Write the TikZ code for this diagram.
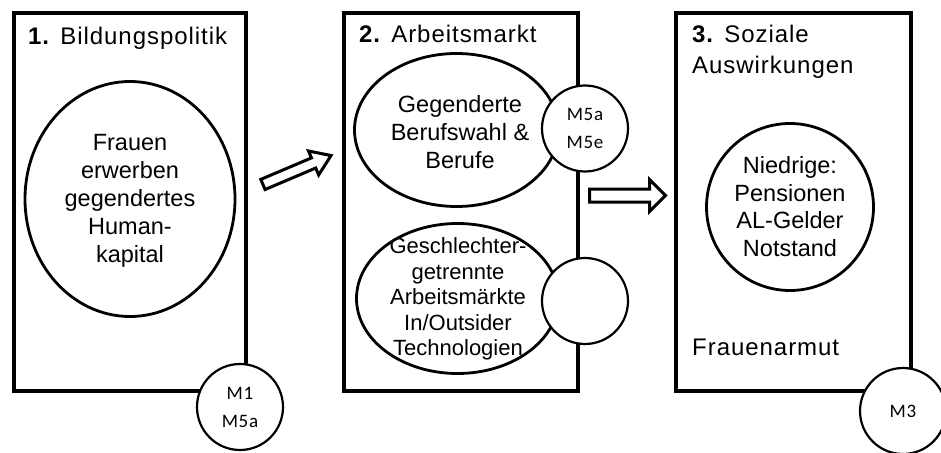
\documentclass[tikz,border=0pt]{standalone}
\usepackage{fontspec}
\setmainfont{Liberation Sans}
\newfontfamily\spacedfont[LetterSpace=4]{Liberation Sans}
\newfontfamily\mfont[LetterSpace=4]{Carlito}
\usetikzlibrary{shapes.geometric}
\begin{document}
\begin{tikzpicture}[x=1pt,y=-1pt,
  panel/.style={draw, line width=3.5pt, inner sep=0pt},
  oval/.style={draw, ellipse, line width=2.8pt, inner sep=0pt},
  roundoval/.style={draw, circle, line width=2.8pt, inner sep=0pt},
  refcircle/.style={draw, circle, fill=white, line width=2.2pt, minimum size=86pt, inner sep=0pt, align=center, font=\fontsize{19}{28}\selectfont\mfont},
  bodytext/.style={align=center, inner sep=0pt, font=\fontsize{23.5}{28}\selectfont},
  smalltext/.style={align=center, inner sep=0pt, font=\fontsize{22}{25.5}\selectfont},
  titletext/.style={anchor=base west, inner sep=0pt, font=\fontsize{24}{30}\selectfont\spacedfont},
  hollow/.style={draw, line width=3pt, fill=white, line join=miter}
]
\useasboundingbox (0,0) rectangle (941,452);

% panels
\node[panel, minimum width=232pt, minimum height=378pt] (p1) at (130,202) {};
\node[panel, minimum width=234pt, minimum height=378pt] (p2) at (461,202) {};
\node[panel, minimum width=235pt, minimum height=378pt] (p3) at (793.5,202) {};

% titles
\node[titletext] (t1) at (28,45) {\textbf{1.} Bildungspolitik};
\node[titletext] (t2) at (359,43) {\textbf{2.} Arbeitsmarkt};
\node[titletext] (t3) at (692,43) {\textbf{3.} Soziale};
\node[titletext] (t3b) at (692,73) {Auswirkungen};
\node[titletext] (fa) at (692,355) {Frauenarmut};

% hollow arrows
\begin{scope}[shift={(297,170)}, rotate=23]
  \draw[hollow] (-37,-5.5) -- (18,-5.5) -- (18,-13) -- (37,0) -- (18,13) -- (18,5.5) -- (-37,5.5) -- cycle;
\end{scope}
\begin{scope}[shift={(627.5,195.5)}]
  \draw[hollow] (-38,-6.5) -- (22,-6.5) -- (22,-16) -- (38,0) -- (22,16) -- (22,6.5) -- (-38,6.5) -- cycle;
\end{scope}

% ovals
\node[oval, minimum width=210pt, minimum height=235pt] (e1) at (130,199) {};
\node[oval, minimum width=204pt, minimum height=153pt] (e2a) at (456.5,130) {};
\node[oval, minimum width=202pt, minimum height=150pt] (e2b) at (457.5,298.5) {};
\node[roundoval, minimum size=167pt] (c3) at (790,207) {};

% reference circles
\node[refcircle] (m1) at (240,407) {M1\\M5a};
\node[refcircle] (m2a) at (585,128.5) {M5a\\M5e};
\node[refcircle] (m2b) at (585,301) {};
\node[refcircle] (m3) at (903,411) {M3};

% texts
\node[bodytext] (e1t) at (130,201) {Frauen\\erwerben\\gegendertes\\Human-\\kapital};
\node[bodytext] (e2at) at (460,132) {Gegenderte\\Berufswahl \&\\Berufe};
\node[smalltext] (e2bt) at (458,299) {Geschlechter-\\getrennte\\Arbeitsmärkte\\In/Outsider\\Technologien};
\node[bodytext, font=\fontsize{23.5}{27.7}\selectfont] (c3t) at (790,206.5) {Niedrige:\\Pensionen\\AL-Gelder\\Notstand};
\end{tikzpicture}
\end{document}
